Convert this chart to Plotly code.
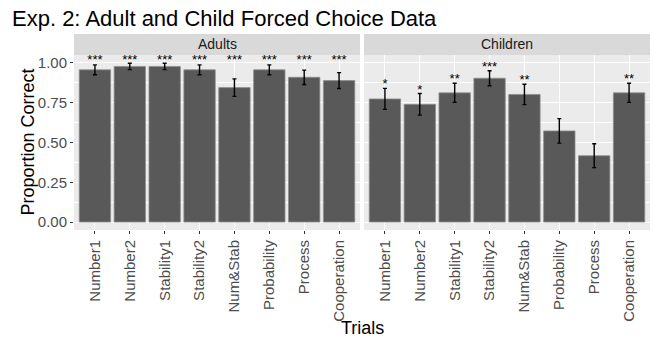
import plotly.graph_objects as go

trials = ["Number1", "Number2", "Stability1", "Stability2", "Num&Stab", "Probability", "Process", "Cooperation"]

adult_mean = [0.957, 0.978, 0.978, 0.957, 0.845, 0.957, 0.910, 0.889]
adult_se = [0.031, 0.020, 0.020, 0.031, 0.055, 0.031, 0.045, 0.050]
adult_sig = ["***", "***", "***", "***", "***", "***", "***", "***"]

child_mean = [0.774, 0.740, 0.812, 0.904, 0.802, 0.573, 0.417, 0.812]
child_se = [0.066, 0.068, 0.060, 0.047, 0.064, 0.077, 0.075, 0.060]
child_sig = ["*", "*", "**", "***", "**", "", "", "**"]

y_ticks = [0.0, 0.25, 0.5, 0.75, 1.0]
y_tick_text = ["0.00", "0.25", "0.50", "0.75", "1.00"]

W, H = 654, 343
L, R, T, B = 74, 4, 55, 113
plot_w = W - L - R
plot_h = H - T - B
gap = 4
panel_w = (plot_w - gap) / 2

BAR = "#595959"
PANEL = "#EBEBEB"
STRIP = "#D9D9D9"
FONT = "Liberation Sans, Arial, sans-serif"

fig = go.Figure()

for i, (mean, se, sig) in enumerate([(adult_mean, adult_se, adult_sig), (child_mean, child_se, child_sig)]):
    xa = "x" if i == 0 else "x2"
    ya = "y" if i == 0 else "y2"
    fig.add_trace(go.Bar(
        x=trials, y=mean, xaxis=xa, yaxis=ya,
        marker=dict(color=BAR, line=dict(color="#8F8F8F", width=0.8)),
        width=0.9,
        error_y=dict(type="data", array=se, visible=True, color="black", thickness=1.4, width=2),
        showlegend=False, hoverinfo="skip",
    ))
    if i == 0:
        star_y = [1.012 for _ in mean]
    else:
        star_y = [m + s + 0.02 for m, s in zip(mean, se)]
    fig.add_trace(go.Scatter(
        x=trials, y=star_y, xaxis=xa, yaxis=ya, mode="text", text=sig,
        textposition="middle center",
        textfont=dict(family=FONT, size=13, color="black"),
        showlegend=False, hoverinfo="skip",
    ))

d1 = panel_w / plot_w
d2 = (panel_w + gap) / plot_w

xcommon = dict(
    type="category", range=[-0.6, 7.6], showgrid=True, gridcolor="white", gridwidth=1.1,
    ticks="outside", ticklen=3, tickcolor="#333333", tickwidth=1,
    tickangle=-90, tickfont=dict(family=FONT, size=15, color="#4D4D4D"),
    zeroline=False, showline=False, automargin=False,
)
ycommon = dict(
    range=[-0.05, 1.05], tickvals=y_ticks, ticktext=y_tick_text,
    showgrid=True, gridcolor="white", gridwidth=1.1,
    minor=dict(tickvals=[0.125, 0.375, 0.625, 0.875], showgrid=True, gridcolor="white", gridwidth=0.5),
    zeroline=False, showline=False, automargin=False,
    tickfont=dict(family=FONT, size=15, color="#4D4D4D"),
)

fig.update_layout(
    width=W, height=H,
    margin=dict(l=L, r=R, t=T, b=B, autoexpand=False),
    paper_bgcolor="white",
    plot_bgcolor="rgba(0,0,0,0)",
    bargap=0.1,
    xaxis=dict(domain=[0, d1], anchor="y", **xcommon),
    xaxis2=dict(domain=[d2, 1], anchor="y2", **xcommon),
    yaxis=dict(domain=[0, 1], anchor="x", ticks="outside", ticklen=3, tickcolor="#333333", **ycommon),
    yaxis2=dict(domain=[0, 1], anchor="x2", matches="y", showticklabels=False, ticks="", **ycommon),
    title=dict(text="Exp. 2: Adult and Child Forced Choice Data", x=12 / W, xanchor="left",
               y=1 - 18 / H, yanchor="middle", xref="container", yref="container",
               automargin=False,
               font=dict(family=FONT, size=22, color="black")),
    font=dict(family=FONT),
)

strip_top = 1 + 21 / plot_h
shapes = []
for x0, x1, lab in [(0, d1, "Adults"), (d2, 1, "Children")]:
    shapes.append(dict(type="rect", xref="paper", yref="paper", x0=x0, x1=x1, y0=1, y1=strip_top,
                       fillcolor=STRIP, line=dict(width=0), layer="below"))
    shapes.append(dict(type="rect", xref="paper", yref="paper", x0=x0, x1=x1, y0=0, y1=1,
                       fillcolor=PANEL, line=dict(width=0), layer="below"))
    fig.add_annotation(text=lab, xref="paper", yref="paper", x=(x0 + x1) / 2, y=(1 + strip_top) / 2,
                       showarrow=False, xanchor="center", yanchor="middle",
                       font=dict(family=FONT, size=14, color="#1A1A1A"))
fig.update_layout(shapes=shapes)

fig.add_annotation(text="Proportion Correct", xref="paper", yref="paper", x=(27 - L) / plot_w, y=0.5,
                   textangle=-90, showarrow=False, xanchor="center", yanchor="middle",
                   font=dict(family=FONT, size=18, color="black"))
fig.add_annotation(text="Trials", xref="paper", yref="paper", x=(362 - L) / plot_w, y=(T + plot_h - 328) / plot_h,
                   showarrow=False, xanchor="center", yanchor="middle",
                   font=dict(family=FONT, size=18, color="black"))

fig.write_html("out.html", config={"displayModeBar": False},
               post_script="document.body.style.margin='0';document.body.style.padding='0';")
